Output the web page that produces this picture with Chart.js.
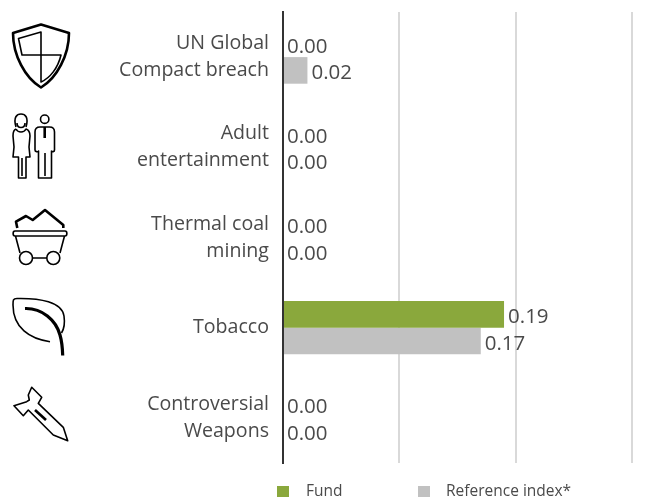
<!DOCTYPE html>
<html>
<head>
<meta charset="utf-8">
<style>
  html, body { margin:0; padding:0; background:#fff; }
  #wrap { width:645px; height:502px; }
</style>
<script src="https://cdn.jsdelivr.net/npm/chart.js@4"></script>
</head>
<body>
<div id="wrap"><canvas id="exclusionChart"></canvas></div>
<script>
// data
const categories = [
  ["UN Global", "Compact breach"],
  ["Adult", "entertainment"],
  ["Thermal coal", "mining"],
  "Tobacco",
  ["Controversial", "Weapons"]
];
const fundValues = [0.00, 0.00, 0.00, 0.19, 0.00];
const referenceValues = [0.021, 0.00, 0.00, 0.17, 0.00];
const seriesNames = ["Fund", "Reference index*"];

const FONT = "'Open Sans', 'Noto Sans', sans-serif";
const TEXT = "#4a4a4a";

// icons left of the category labels, [svg path, stroke width]
const icons = [
  // shield
  ["M13 33 L41 24.5 L69 33 C69 55 57 78 41 87.5 C25 78 13 55 13 33 Z", 2.6],
  ["M41 32 L18.5 38.5 L22 55 L61 55 C58 68 50 78 41 82 Z M41 32 L41 82", 1.6],
  // woman
  ["M16 127 C13 117 17 114 21 114 C25 114 29 117 26 127 M17 123 C17 129 25 129 25 123", 1.6],
  ["M16 129 C13 130 13 133 13 136 L14 147 L13 157 L18.5 157 L18.5 178 L26 178 L26 157 L30 157 L29 147 L30 136 C30 133 29 130 26 129 C24 133 18 133 16 129 M22 158 L22 176", 1.6],
  // man
  ["M44.7 115 A4.2 4.2 0 1 0 44.7 123.4 A4.2 4.2 0 1 0 44.7 115 Z", 1.6],
  ["M40 127 C36 127 35 129 35 132 L35 150 C35 152 38 152 38.5 151 L38.5 178 L51.5 178 L51.5 151 C52 152 54.5 152 54.5 150 L54.5 132 C54.5 129 53 127 49.5 127 Z M45 153 L45 176", 1.6],
  ["M44.7 127 L44.7 138", 2.6],
  // coal cart
  ["M17.3 228 L16 221.7 L26 216 L32.7 220 L45 210 L63.3 225 L63.3 228", 2.6],
  ["M15 231 L65 231 C67.5 231 67.5 236 65 236 L15 236 C12.5 236 12.5 231 15 231 Z M15.5 236 L20 253 M64.5 236 L60 253 M32.5 258 L46.8 258", 1.6],
  ["M32.5 258 A6.5 6.5 0 1 0 19.5 258 A6.5 6.5 0 1 0 32.5 258 Z M59.8 258 A6.5 6.5 0 1 0 46.8 258 A6.5 6.5 0 1 0 59.8 258 Z", 1.6],
  // leaf
  ["M50 341.7 C30 339 13 328 13 305 C13 300 13 298.5 17 298.5 C40 298 62 302 64 316 C65 323 64 329 61.5 333", 1.6],
  ["M25 308.5 C42 308 56 320 60 335 C62 342 62.5 348 62.7 355.5", 3.2],
  // missile
  ["M31.7 387.3 L41.7 397.3 L38.3 403.3 L63.3 427.3 L67.7 440.7 L53.3 435 L28.3 410 L23.3 415.7 L14 405.7 L26.7 401.7 L29.3 400 L28.3 395 Z", 1.6],
  ["M35 410 L46 420", 2.6]
];

const iconPlugin = {
  id:"iconPlugin",
  afterDraw(chart){
    const ctx = chart.ctx;
    ctx.save();
    ctx.strokeStyle = "#000";
    ctx.lineJoin = "round";
    icons.forEach(function(icon){
      ctx.lineWidth = icon[1];
      ctx.stroke(new Path2D(icon[0]));
    });
    ctx.restore();
  }
};

// value next to the end of each bar
const valueLabels = {
  id:"valueLabels",
  afterDatasetsDraw(chart){
    const ctx = chart.ctx;
    ctx.save();
    ctx.font = "20.5px " + FONT;
    ctx.fillStyle = TEXT;
    ctx.textAlign = "left";
    ctx.textBaseline = "middle";
    chart.data.datasets.forEach(function(ds, d){
      chart.getDatasetMeta(d).data.forEach(function(bar, i){
        ctx.fillText(ds.data[i].toFixed(2), bar.x + 4, bar.y + 3);
      });
    });
    ctx.restore();
  }
};

// legend under the plot, the built in one can't give these gaps
const legendBoxX = [277, 418];
const legendTextX = [306, 446];
const bottomLegend = {
  id:"bottomLegend",
  afterDraw(chart){
    const ctx = chart.ctx;
    ctx.save();
    ctx.font = "15.5px " + FONT;
    ctx.textAlign = "left";
    ctx.textBaseline = "middle";
    chart.data.datasets.forEach(function(ds, d){
      ctx.fillStyle = ds.backgroundColor;
      ctx.fillRect(legendBoxX[d], 486, 12, 11);
      ctx.fillStyle = TEXT;
      ctx.fillText(ds.label, legendTextX[d], 492);
    });
    ctx.restore();
  }
};

new Chart(
  document.getElementById("exclusionChart"),
  {
    type:"bar",
    data:{
      labels:categories,
      datasets:[
        {
          label:seriesNames[0],
          data:fundValues,
          backgroundColor:"#8aa83c"
        },
        {
          label:seriesNames[1],
          data:referenceValues,
          backgroundColor:"#c1c1c1"
        }
      ]
    },
    options:{
      indexAxis:"y",
      responsive:true,
      maintainAspectRatio:false,
      animation:false,
      layout:{
        padding:{ top:12, right:13, bottom:39, left:0 }
      },
      categoryPercentage:0.59,
      barPercentage:1,
      plugins:{
        tooltip:{ enabled:false },
        legend:{ display:false }
      },
      scales:{
        x:{
          min:0,
          max:0.3,
          ticks:{ display:false, stepSize:0.1 },
          grid:{ color:"#d9d9d9", lineWidth:2, drawTicks:false },
          border:{ display:false }
        },
        y:{
          afterFit(scale){
            scale.width = 283;
            scale.paddingTop = 0;
            scale.paddingBottom = 0;
          },
          ticks:{
            color:TEXT,
            padding:14,
            font:{ family:FONT, size:19.6, lineHeight:1.38 }
          },
          grid:{ display:false, drawTicks:false },
          border:{ color:"#333333", width:2 }
        }
      }
    },
    plugins:[iconPlugin, valueLabels, bottomLegend]
  }
);
</script>
</body>
</html>
